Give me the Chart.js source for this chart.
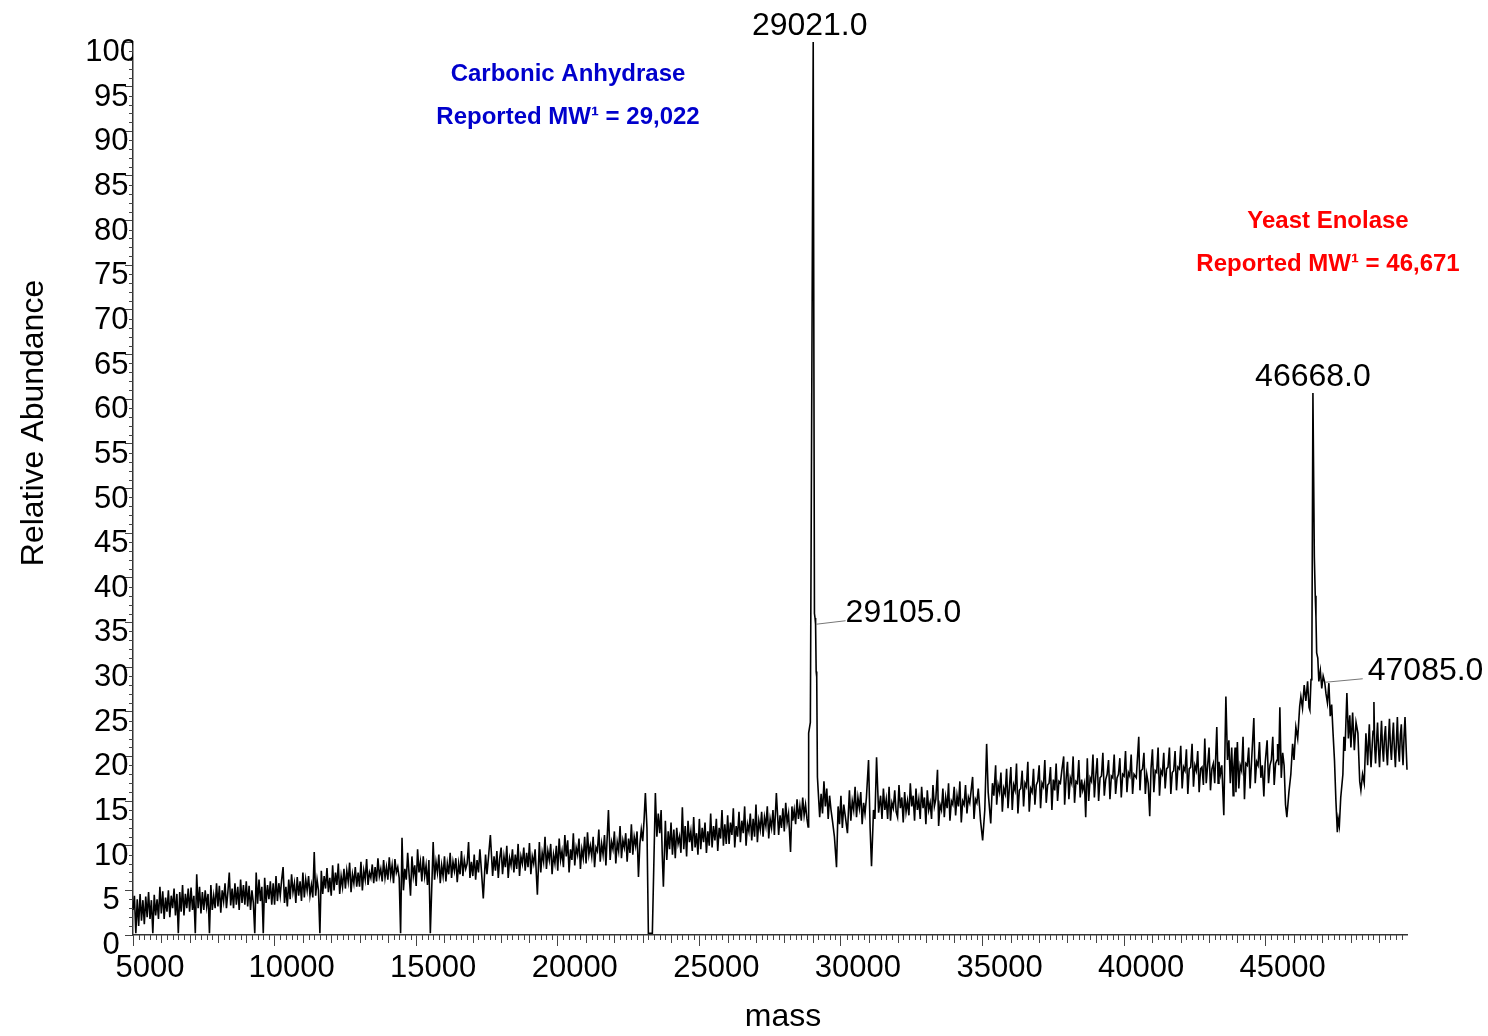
<!DOCTYPE html>
<html>
<head>
<meta charset="utf-8">
<script src="https://cdn.jsdelivr.net/npm/chart.js@4.4.0/dist/chart.umd.min.js"></script>
<style>
  body { margin: 0; background: #fff; }
  #wrap { width: 1488px; height: 1036px; }
</style>
</head>
<body>
<div id="wrap"><canvas id="chart" width="1488" height="1036"></canvas></div>
<script>
// deconvoluted spectrum: [mass, relative abundance]
const spectrum = [
  [5000,2.8],[5050,4.4],[5100,0.2],[5150,4.0],[5200,1.0],[5250,4.6],[5300,1.6],[5350,3.9],[5400,1.2],[5450,4.3],
  [5500,2.0],[5550,4.8],[5600,1.8],[5650,3.9],[5700,0.2],[5750,4.5],[5800,2.2],[5850,4.0],[5900,1.8],[5950,5.4],
  [6000,2.4],[6050,4.9],[6100,1.8],[6150,4.2],[6200,2.6],[6250,5.0],[6300,2.0],[6350,4.4],[6400,3.0],[6450,5.2],
  [6500,2.2],[6550,4.6],[6600,0.2],[6650,4.8],[6700,2.6],[6750,5.6],[6800,2.2],[6850,4.6],[6900,3.0],[6950,5.2],
  [7000,2.6],[7050,5.3],[7100,2.8],[7150,4.4],[7200,0.2],[7250,6.8],[7300,3.0],[7350,5.4],[7400,2.4],[7450,4.8],
  [7500,2.8],[7550,5.0],[7600,3.2],[7650,4.6],[7700,0.2],[7750,5.6],[7800,2.8],[7850,4.4],[7900,3.0],[7950,5.8],
  [8000,3.2],[8050,5.5],[8100,2.5],[8150,5.0],[8200,3.8],[8250,5.8],[8300,3.0],[8350,4.8],[8400,7.0],[8450,3.3],
  [8500,5.2],[8550,3.0],[8600,5.8],[8650,3.4],[8700,5.4],[8750,2.8],[8800,6.2],[8850,3.6],[8900,5.6],[8950,3.4],
  [9000,6.0],[9050,3.2],[9100,5.5],[9150,2.8],[9200,5.0],[9250,3.6],[9300,0.2],[9350,7.0],[9400,3.5],[9450,6.2],
  [9500,3.8],[9550,5.4],[9600,0.2],[9650,6.4],[9700,3.6],[9750,5.6],[9800,4.0],[9850,6.0],[9900,3.4],[9950,5.8],
  [10000,3.4],[10050,6.6],[10100,3.8],[10150,5.8],[10200,4.4],[10250,6.2],[10300,7.6],[10350,3.6],[10400,5.4],[10450,3.2],
  [10500,6.2],[10550,4.0],[10600,6.8],[10650,4.8],[10700,5.8],[10750,3.6],[10800,6.5],[10850,4.4],[10900,6.0],[10950,3.8],
  [11000,7.0],[11050,4.2],[11100,6.2],[11150,5.0],[11200,6.6],[11250,4.4],[11300,5.6],[11350,4.2],[11400,9.3],[11450,4.4],
  [11500,6.2],[11550,5.0],[11600,0.2],[11650,7.2],[11700,4.6],[11750,6.6],[11800,5.2],[11850,7.5],[11900,4.8],[11950,6.4],
  [12000,4.4],[12050,7.8],[12100,5.0],[12150,7.0],[12200,5.6],[12250,8.0],[12300,4.6],[12350,6.6],[12400,5.4],[12450,7.4],
  [12500,5.2],[12550,7.2],[12600,6.0],[12650,8.1],[12700,4.8],[12750,6.8],[12800,5.8],[12850,7.6],[12900,5.4],[12950,7.0],
  [13000,5.4],[13050,8.2],[13100,5.0],[13150,7.2],[13200,6.2],[13250,8.5],[13300,5.6],[13350,7.0],[13400,6.4],[13450,7.9],
  [13500,5.8],[13550,7.6],[13600,6.0],[13650,8.6],[13700,6.6],[13750,7.4],[13800,6.0],[13850,8.4],[13900,6.4],[13950,7.6],
  [14000,6.2],[14050,8.7],[14100,6.6],[14150,7.8],[14200,5.8],[14250,8.5],[14300,7.0],[14350,7.6],[14400,6.4],[14450,0.2],
  [14500,10.9],[14550,5.0],[14600,7.4],[14650,6.2],[14700,9.2],[14750,6.8],[14800,4.4],[14850,8.8],[14900,6.6],[14950,7.8],
  [15000,5.5],[15050,9.6],[15100,7.0],[15150,8.2],[15200,6.0],[15250,8.8],[15300,6.6],[15350,7.8],[15400,5.6],[15450,8.4],
  [15500,0.2],[15600,10.4],[15650,6.2],[15700,8.2],[15750,7.0],[15800,9.0],[15850,5.8],[15900,7.8],[15950,6.6],
  [16000,8.8],[16050,6.0],[16100,8.0],[16150,6.8],[16200,9.2],[16250,6.4],[16300,8.2],[16350,7.2],[16400,8.6],[16450,5.9],
  [16500,8.0],[16550,6.8],[16600,9.4],[16650,6.6],[16700,8.4],[16750,7.4],[16800,8.0],[16850,10.4],[16900,6.4],[16950,8.2],
  [17000,6.6],[17050,9.0],[17100,6.2],[17150,8.4],[17200,7.0],[17250,9.6],[17300,7.4],[17370,4.1],[17450,9.0],[17500,6.8],
  [17550,8.6],[17620,11.2],[17700,6.6],[17750,8.8],[17800,7.2],[17850,9.4],[17900,6.4],[17950,8.6],
  [18000,9.8],[18050,6.8],[18100,8.8],[18150,7.6],[18200,10.0],[18250,6.4],[18300,8.6],[18350,7.8],[18400,9.6],[18450,7.0],
  [18500,9.0],[18550,7.4],[18600,10.2],[18650,6.6],[18700,8.8],[18750,8.0],[18800,9.8],[18850,7.2],[18900,9.2],[18950,7.6],
  [19000,10.3],[19050,6.8],[19100,8.8],[19150,8.0],[19200,9.6],[19280,4.5],[19350,10.4],[19400,7.0],[19450,9.2],[19500,8.2],
  [19550,11.0],[19600,7.4],[19650,9.4],[19700,8.4],[19750,10.2],[19800,6.8],[19850,9.0],[19900,8.0],[19950,10.0],
  [20000,7.2],[20050,10.8],[20100,8.4],[20150,9.4],[20200,7.6],[20250,11.2],[20300,8.8],[20350,10.6],[20400,7.0],[20450,9.6],
  [20500,8.4],[20550,11.4],[20600,7.8],[20650,9.8],[20700,9.0],[20750,10.8],[20800,7.4],[20850,9.6],[20900,8.6],[20950,11.0],
  [21000,8.0],[21050,11.5],[21100,9.0],[21150,10.0],[21200,8.8],[21250,11.0],[21300,7.6],[21350,9.8],[21400,9.4],[21450,11.8],
  [21500,8.2],[21550,10.2],[21600,9.0],[21650,11.2],[21700,7.8],[21790,14.0],[21850,8.4],[21900,10.4],[21950,9.6],
  [22000,11.6],[22050,8.0],[22100,10.4],[22150,9.4],[22200,12.2],[22250,8.6],[22300,10.6],[22350,9.8],[22400,11.4],[22450,8.2],
  [22500,10.8],[22550,9.2],[22600,12.4],[22650,9.0],[22700,11.0],[22750,10.0],[22800,11.6],[22850,6.5],[22900,10.2],[22950,11.8],
  [23000,10.5],[23050,13.0],[23094,15.9],[23150,12.0],[23200,0.2],[23340,0.2],[23447,15.9],[23500,11.0],[23550,13.6],[23600,11.4],
  [23650,14.0],[23690,9.0],[23730,5.4],[23800,12.8],[23850,8.4],[23900,11.6],[23950,9.6],
  [24000,12.6],[24050,9.0],[24100,11.8],[24150,8.6],[24200,12.0],[24250,10.2],[24300,11.0],[24350,9.2],[24400,14.3],[24450,9.6],
  [24500,12.2],[24550,8.8],[24600,12.8],[24650,10.4],[24700,11.6],[24750,9.4],[24800,13.2],[24850,9.8],[24900,11.4],[24950,9.0],
  [25000,13.0],[25050,9.6],[25100,12.0],[25150,10.4],[25200,12.6],[25250,9.2],[25300,11.6],[25350,10.0],[25400,13.6],[25450,9.8],
  [25500,12.2],[25550,10.6],[25600,13.0],[25650,9.4],[25700,12.0],[25750,10.8],[25800,14.0],[25850,10.0],[25900,12.4],[25950,10.2],
  [26000,13.4],[26050,10.2],[26100,12.6],[26150,11.2],[26200,14.2],[26250,9.8],[26300,12.2],[26350,11.0],[26400,13.8],[26450,10.4],
  [26500,12.8],[26550,11.4],[26600,14.4],[26650,10.0],[26700,12.4],[26750,11.6],[26800,13.6],[26850,10.6],[26900,13.0],[26950,11.0],
  [27000,14.6],[27050,10.4],[27100,12.8],[27150,11.8],[27200,13.8],[27250,11.0],[27300,13.2],[27350,12.2],[27400,14.4],[27450,10.8],
  [27500,13.0],[27550,12.0],[27600,14.0],[27650,11.2],[27720,15.9],[27800,11.2],[27850,13.4],[27900,12.0],[27950,14.2],
  [28000,11.6],[28050,14.8],[28100,12.6],[28150,13.6],[28220,9.3],[28270,14.4],[28300,12.8],[28350,14.0],[28400,12.4],[28450,15.2],
  [28500,13.0],[28550,14.4],[28600,12.8],[28650,15.4],[28700,13.4],[28750,14.6],[28800,13.0],[28840,12.1],
  [28860,22.6],[28920,23.8],[28960,53.0],[29021,100.0],[29065,36.0],[29085,35.5],[29105,34.8],[29125,29.5],[29145,28.9],[29170,17.7],
  [29200,16.0],[29250,13.2],[29300,15.8],[29350,13.6],[29400,17.2],[29450,14.4],[29500,16.4],[29550,13.0],[29600,15.6],[29650,14.0],
  [29700,12.8],[29770,11.0],[29844,7.6],[29900,14.4],[29950,12.4],
  [30000,15.6],[30050,12.0],[30100,14.6],[30150,13.4],[30230,11.4],[30300,16.2],[30350,12.8],[30400,15.0],[30450,14.0],[30500,16.6],
  [30550,13.2],[30600,15.4],[30650,14.2],[30700,16.0],[30750,12.4],[30800,14.8],[30850,13.6],[30900,15.4],[30975,19.6],[31030,12.0],
  [31080,7.7],[31150,14.0],[31200,13.0],[31258,19.9],[31330,13.7],[31400,15.6],[31450,13.0],[31500,16.4],[31550,14.0],[31600,15.2],
  [31650,13.0],[31700,16.6],[31750,12.8],[31800,14.8],[31850,14.2],[31900,16.2],[31950,13.8],
  [32000,13.2],[32050,16.8],[32100,14.2],[32150,15.4],[32200,12.6],[32250,16.0],[32300,13.8],[32350,15.0],[32400,13.4],[32450,17.0],
  [32500,14.4],[32550,15.6],[32600,12.8],[32650,16.4],[32700,14.0],[32750,15.2],[32800,13.0],[32850,16.6],[32900,14.2],[32950,15.4],
  [33000,12.4],[33050,16.2],[33100,14.0],[33150,14.8],[33200,13.0],[33250,16.8],[33300,14.4],[33350,15.2],[33410,18.5],[33450,12.2],
  [33500,14.6],[33550,14.0],[33600,16.4],[33650,13.2],[33700,15.4],[33750,14.2],[33800,17.0],[33850,12.8],[33900,15.0],[33950,14.6],
  [34000,16.6],[34050,13.4],[34100,15.6],[34150,14.4],[34200,17.2],[34250,12.6],[34300,15.0],[34350,14.6],[34400,16.8],[34450,13.6],
  [34500,15.4],[34550,14.8],[34650,17.7],[34700,13.0],[34750,15.2],[34800,14.8],[34850,16.4],[34930,12.8],[35004,10.6],
  [35080,14.0],[35145,21.4],[35200,16.0],[35290,12.5],[35350,17.0],[35400,15.6],[35463,19.0],[35500,14.6],[35550,16.8],[35600,16.0],
  [35650,18.2],[35700,13.8],[35750,16.4],[35800,15.8],[35850,18.6],[35900,14.2],[35950,16.6],
  [36000,18.8],[36050,14.0],[36100,16.8],[36150,16.2],[36200,19.2],[36250,13.6],[36300,16.2],[36350,16.4],[36400,18.4],[36450,14.4],
  [36500,17.0],[36550,16.6],[36600,19.4],[36650,13.8],[36700,16.4],[36750,16.0],[36800,18.6],[36850,14.6],[36900,16.8],[36950,17.2],
  [37000,19.0],[37050,14.2],[37100,17.0],[37150,16.6],[37200,19.6],[37250,14.8],[37300,16.8],[37350,17.0],[37400,18.8],[37450,14.0],
  [37500,17.4],[37550,16.2],[37600,19.2],[37650,15.0],[37700,17.2],[37750,17.0],[37800,18.4],[37866,20.0],[37900,14.6],[37950,17.4],
  [38000,19.4],[38050,15.2],[38100,17.6],[38150,17.0],[38200,20.0],[38250,14.8],[38300,17.2],[38350,17.0],[38400,19.6],[38450,15.4],
  [38500,17.4],[38540,16.2],[38600,17.0],[38644,13.2],[38700,19.8],[38750,15.0],[38800,17.6],[38850,17.2],[38900,20.2],[38950,15.4],
  [39000,17.8],[39050,19.8],[39100,15.0],[39150,17.6],[39200,17.8],[39250,20.4],[39300,15.6],[39350,17.4],[39400,18.0],[39450,19.6],
  [39500,15.2],[39550,17.8],[39600,17.6],[39650,20.2],[39700,15.8],[39750,17.6],[39800,18.0],[39850,19.8],[39900,15.4],[39950,18.0],
  [40000,17.8],[40050,20.6],[40100,16.0],[40150,18.2],[40200,17.8],[40250,20.2],[40300,15.8],[40350,18.0],[40430,17.6],[40517,22.2],
  [40560,16.2],[40600,18.4],[40650,18.6],[40700,20.4],[40750,15.8],[40800,18.0],[40850,17.0],[40905,13.3],[40950,18.6],
  [41000,20.8],[41050,16.0],[41100,18.4],[41150,18.2],[41200,21.0],[41250,15.6],[41300,18.4],[41350,18.0],[41400,20.4],[41450,16.4],
  [41500,18.6],[41550,18.8],[41600,21.0],[41650,15.8],[41700,18.2],[41750,18.4],[41800,20.6],[41850,16.2],[41900,18.8],[41950,18.6],
  [42000,21.2],[42050,16.4],[42100,18.8],[42150,18.4],[42200,20.8],[42250,15.8],[42300,18.6],[42350,18.8],[42400,21.4],[42450,16.6],
  [42500,19.0],[42550,18.4],[42600,20.6],[42650,16.0],[42700,18.6],[42750,18.8],[42800,16.8],[42849,22.0],[42900,17.0],[42950,19.0],
  [43000,21.0],[43050,16.2],[43100,18.6],[43150,19.2],[43200,17.0],[43273,23.3],[43320,17.0],[43350,19.4],[43400,18.0],[43450,19.0],
  [43521,13.4],[43594,26.7],[43650,19.6],[43700,21.8],[43750,17.0],[43800,21.0],[43850,15.6],[43877,18.8],[43920,21.0],[43950,16.0],
  [44000,21.6],[44050,16.4],[44100,19.0],[44150,18.4],[44200,22.2],[44250,15.2],[44300,19.2],[44350,19.0],[44400,21.0],[44450,16.4],
  [44500,19.4],[44581,24.3],[44630,17.0],[44680,19.4],[44730,19.0],[44780,21.6],[44830,17.6],[44880,19.0],[44935,15.5],[44980,19.2],
  [45050,21.8],[45100,17.0],[45150,19.0],[45200,19.6],[45250,22.2],[45300,16.8],[45350,19.2],[45400,19.6],[45420,21.4],[45460,19.0],
  [45500,25.5],[45550,17.6],[45600,20.4],[45650,19.0],[45700,14.6],[45747,13.2],[45820,16.0],
  [45888,18.0],[45950,21.4],[46000,19.6],[46065,23.3],[46130,22.0],[46200,25.6],[46242,26.7],[46300,25.4],[46360,28.0],[46418,26.2],
  [46480,28.4],[46530,25.5],[46560,25.2],[46600,28.6],[46629,29.7],[46668,60.7],[46718,42.3],[46750,38.0],[46775,35.6],[46800,31.6],
  [46840,31.0],[46877,28.4],[46930,29.6],[46980,27.6],[47030,29.0],[47085,28.3],[47130,27.0],[47180,26.0],[47231,28.2],[47280,24.5],
  [47330,25.8],[47372,23.0],[47430,19.5],[47480,15.0],[47530,11.5],[47560,13.0],[47600,12.2],[47650,15.4],[47726,18.0],[47762,22.2],
  [47800,20.6],[47867,27.1],[47920,22.0],[47970,24.6],[48009,21.0],[48070,24.9],[48130,20.7],[48190,23.8],[48256,22.6],[48320,17.2],
  [48362,16.2],[48420,18.0],[48480,17.0],[48539,22.6],[48580,20.4],[48600,19.0],[48630,21.6],[48660,23.6],[48690,20.6],[48720,18.8],
  [48760,21.2],[48790,22.8],[48822,26.1],[48850,21.0],[48880,19.2],[48920,22.0],[48950,23.8],[48985,20.8],[49020,18.8],[49055,21.6],
  [49090,24.0],[49125,21.0],[49160,19.4],[49195,22.2],[49230,23.4],[49265,20.6],[49300,19.0],[49335,21.8],[49370,24.2],[49405,21.2],
  [49440,19.6],[49475,22.0],[49510,23.8],[49545,20.8],[49580,18.8],[49615,21.6],[49650,24.4],[49685,21.0],[49720,19.4],[49755,22.4],
  [49790,23.6],[49820,20.8],[49850,19.0],[49885,22.2],[49920,24.4],[49955,21.4],[49990,18.5]
];

// axis ticks
const xTickValues = [5000, 10000, 15000, 20000, 25000, 30000, 35000, 40000, 45000];
const yTickValues = [0, 5, 10, 15, 20, 25, 30, 35, 40, 45, 50, 55, 60, 65, 70, 75, 80, 85, 90, 95, 100];

// labelled peaks
const peakMasses = [29021, 29105, 46668, 47085];
const peakTexts = ['29021.0', '29105.0', '46668.0', '47085.0'];

// protein annotations
const proteinNames = ['Carbonic Anhydrase', 'Yeast Enolase'];
const reportedMW = ['29,022', '46,671'];

const xTitle = 'mass';
const yTitle = 'Relative Abundance';

const FONT = '"Liberation Sans", Arial, Helvetica, sans-serif';
Chart.defaults.font.family = FONT;
Chart.defaults.color = '#000';

const decorations = {
  id: 'decorations',
  afterDraw(chart) {
    const { ctx, scales: { x, y } } = chart;
    ctx.save();

    // minor tick marks
    ctx.strokeStyle = '#444';
    ctx.lineWidth = 1;
    for (let v = 1; v < 100; v++) {
      if (v % 5 === 0) continue;
      const py = Math.round(y.getPixelForValue(v)) + 0.5;
      ctx.beginPath();
      ctx.moveTo(x.left - 4, py);
      ctx.lineTo(x.left, py);
      ctx.stroke();
    }
    for (let m = 5200; m < 50000; m += 200) {
      if (m % 5000 === 0) continue;
      const len = m % 1000 === 0 ? 8 : 5;
      const px = Math.round(x.getPixelForValue(m)) + 0.5;
      ctx.beginPath();
      ctx.moveTo(px, y.bottom);
      ctx.lineTo(px, y.bottom + len);
      ctx.stroke();
    }

    // peak labels
    ctx.font = '32px ' + FONT;
    ctx.fillStyle = '#000';
    ctx.textBaseline = 'alphabetic';
    peakMasses.forEach((m, i) => {
      const pt = spectrum.find(p => p[0] === m);
      const px = x.getPixelForValue(m);
      const py = y.getPixelForValue(pt[1]);
      ctx.strokeStyle = '#777';
      if (i === 0 || i === 2) {
        ctx.textAlign = 'center';
        ctx.fillText(peakTexts[i], px - (i === 0 ? 3.5 : 0), py - 7);
      } else {
        const lx = i === 1 ? 30 : 38;
        ctx.beginPath();
        ctx.moveTo(px + 0.5, py);
        ctx.lineTo(px + lx, py - 3.5);
        ctx.stroke();
        ctx.textAlign = 'left';
        ctx.fillText(peakTexts[i], px + lx + (i === 1 ? 0 : 5), py - 2);
      }
    });

    // protein annotations
    ctx.font = 'bold 24px ' + FONT;
    ctx.textAlign = 'center';
    ctx.textBaseline = 'middle';
    ctx.fillStyle = '#0000cc';
    ctx.fillText(proteinNames[0], 568, 74);
    ctx.fillText('Reported MW\u00b9 = ' + reportedMW[0], 568, 117);
    ctx.fillStyle = '#ff0000';
    ctx.fillText(proteinNames[1], 1328, 221);
    ctx.fillText('Reported MW\u00b9 = ' + reportedMW[1], 1328, 264);

    // axis titles
    ctx.fillStyle = '#000';
    ctx.font = '32px ' + FONT;
    ctx.fillText(xTitle, 783, 1017);
    ctx.translate(34, 423);
    ctx.rotate(-Math.PI / 2);
    ctx.fillText(yTitle, 0, 0);

    ctx.restore();
  }
};

new Chart(document.getElementById('chart'), {
  type: 'line',
  data: {
    datasets: [{
      data: spectrum.map(([m, a]) => ({ x: m, y: a })),
      borderColor: '#000',
      borderWidth: 1.6,
      pointRadius: 0,
      tension: 0,
      clip: false
    }]
  },
  options: {
    responsive: false,
    animation: false,
    layout: { padding: { top: 42, right: 81, left: 0, bottom: 0 } },
    plugins: { legend: { display: false }, tooltip: { enabled: false } },
    scales: {
      x: {
        type: 'linear',
        min: 5000,
        max: 49990,
        afterFit: s => { s.height = 101; },
        afterBuildTicks: s => { s.ticks = xTickValues.map(v => ({ value: v })); },
        border: { color: '#333', width: 1.5 },
        grid: { drawOnChartArea: false, tickLength: 11, color: '#444' },
        ticks: {
          autoSkip: false,
          maxRotation: 0,
          padding: 4,
          labelOffset: 17,
          font: { size: 31 },
          color: '#000',
          callback: v => String(v)
        }
      },
      y: {
        min: 0,
        max: 100,
        afterFit: s => { s.width = 133; },
        afterBuildTicks: s => { s.ticks = yTickValues.map(v => ({ value: v })); },
        border: { color: '#333', width: 1.5 },
        grid: { drawOnChartArea: false, tickLength: 8, color: '#444' },
        ticks: {
          crossAlign: 'center',
          padding: -12,
          labelOffset: 10.5,
          font: { size: 31 },
          color: '#000'
        }
      }
    }
  },
  plugins: [decorations]
});
</script>
</body>
</html>
